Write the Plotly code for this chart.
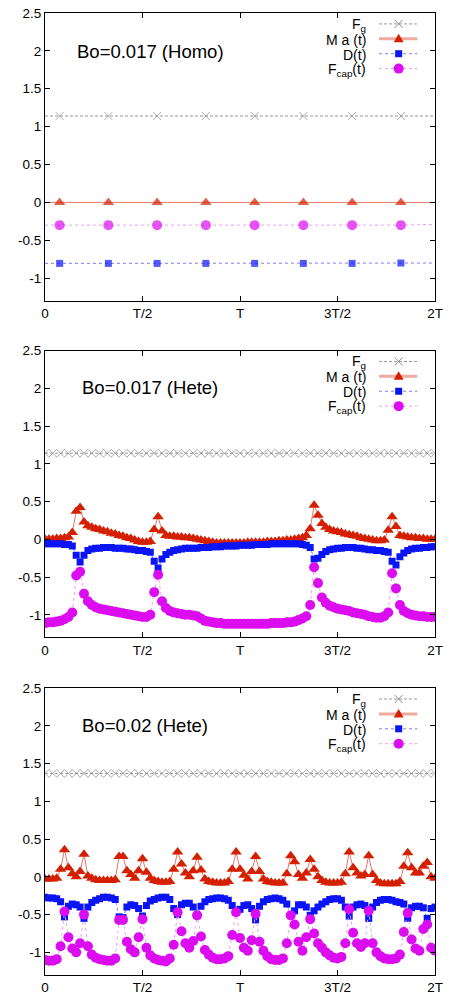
import plotly.graph_objects as go

# ---------------- data ----------------
# Panel 1: Bo=0.017 (Homo) -- time in units of T
T_HOMO = [0.0, 0.075, 0.325, 0.575, 0.825, 1.075, 1.325, 1.575, 1.825, 2.0]
HOMO_MARK = [0, 1, 1, 1, 1, 1, 1, 1, 1, 0]
FG_HOMO = [1.14, 1.14, 1.14, 1.14, 1.14, 1.14, 1.14, 1.14, 1.14, 1.14]
MA_HOMO = [0.0, 0.0, 0.0, 0.0, 0.0, 0.0, 0.0, 0.0, 0.0, 0.0]
D_HOMO = [-0.805, -0.805, -0.805, -0.805, -0.805, -0.805, -0.805, -0.805, -0.80, -0.80]
FCAP_HOMO = [-0.30, -0.30, -0.30, -0.30, -0.30, -0.30, -0.30, -0.30, -0.30, -0.29]

# time samples for the heterogeneous runs (0 .. 2T, 101 samples)
T_HETE = [i / 50 for i in range(101)]

# Panel 2: Bo=0.017 (Hete)
FG_017 = [1.14, 1.14, 1.14, 1.14, 1.14, 1.14, 1.14, 1.14, 1.14, 1.14,
          1.14, 1.14, 1.14, 1.14, 1.14, 1.14, 1.14, 1.14, 1.14, 1.14,
          1.14, 1.14, 1.14, 1.14, 1.14, 1.14, 1.14, 1.14, 1.14, 1.14,
          1.14, 1.14, 1.14, 1.14, 1.14, 1.14, 1.14, 1.14, 1.14, 1.14,
          1.14, 1.14, 1.14, 1.14, 1.14, 1.14, 1.14, 1.14, 1.14, 1.14,
          1.14, 1.14, 1.14, 1.14, 1.14, 1.14, 1.14, 1.14, 1.14, 1.14,
          1.14, 1.14, 1.14, 1.14, 1.14, 1.14, 1.14, 1.14, 1.14, 1.14,
          1.14, 1.14, 1.14, 1.14, 1.14, 1.14, 1.14, 1.14, 1.14, 1.14,
          1.14, 1.14, 1.14, 1.14, 1.14, 1.14, 1.14, 1.14, 1.14, 1.14,
          1.14, 1.14, 1.14, 1.14, 1.14, 1.14, 1.14, 1.14, 1.14, 1.14,
          1.14]
MA_017 = [0.00, 0.00, 0.00, 0.01, 0.01, 0.02, 0.03,
          0.09, 0.37, 0.42, 0.23,
          0.18, 0.16, 0.14, 0.13, 0.11, 0.10, 0.08, 0.07, 0.05, 0.04, 0.02, 0.01,
          -0.01, -0.03, -0.04, -0.04, -0.03,
          0.13, 0.30, 0.11,
          0.05, 0.04, 0.04, 0.03, 0.03, 0.02, 0.02, 0.01, 0.00, -0.01, -0.02, -0.03, -0.04,
          -0.05, -0.05, -0.05, -0.05, -0.05, -0.05, -0.05, -0.05, -0.04, -0.04, -0.04, -0.04,
          -0.04, -0.03, -0.03, -0.03, -0.02, -0.02, -0.01, -0.01, 0.00, 0.01, 0.02,
          0.05, 0.14, 0.45, 0.32, 0.21,
          0.16, 0.13, 0.11, 0.10, 0.09, 0.07, 0.06, 0.05, 0.04, 0.02, 0.01, 0.00, -0.01, -0.02, -0.02, -0.01,
          0.12, 0.30, 0.17, 0.05,
          0.04, 0.03, 0.02, 0.02, 0.01, 0.01, 0.00, 0.00, 0.00]
D_017 = [-0.06, -0.06, -0.06, -0.06, -0.06, -0.07, -0.07,
         -0.09, -0.21, -0.30, -0.21,
         -0.15, -0.13, -0.12, -0.12, -0.11, -0.11, -0.11, -0.12, -0.12, -0.12, -0.13, -0.13,
         -0.14, -0.15, -0.15, -0.16, -0.17,
         -0.29, -0.38, -0.26,
         -0.20, -0.17, -0.15, -0.14, -0.13, -0.12, -0.12, -0.12, -0.12, -0.11, -0.11, -0.11, -0.10,
         -0.10, -0.10, -0.09, -0.09, -0.09, -0.09, -0.08, -0.08, -0.08, -0.08, -0.07, -0.07,
         -0.07, -0.07, -0.06, -0.06, -0.06, -0.06, -0.06, -0.06, -0.06, -0.06, -0.07,
         -0.08, -0.11, -0.26, -0.25, -0.20,
         -0.16, -0.14, -0.13, -0.12, -0.12, -0.11, -0.11, -0.11, -0.12, -0.12, -0.13, -0.14, -0.14, -0.15, -0.15, -0.16,
         -0.17, -0.29, -0.34, -0.23,
         -0.18, -0.15, -0.13, -0.12, -0.12, -0.11, -0.11, -0.10, -0.10]
FCAP_017 = [-1.11, -1.10, -1.10, -1.09, -1.08, -1.06, -1.03,
            -0.97, -0.48, -0.43, -0.72,
            -0.82, -0.87, -0.90, -0.92, -0.93, -0.94, -0.95, -0.96, -0.97, -0.98, -0.99, -1.00,
            -1.01, -1.02, -1.03, -1.03, -1.00,
            -0.70, -0.47, -0.82,
            -0.91, -0.95, -0.97, -0.98, -0.99, -1.00, -1.00, -1.01, -1.02, -1.05, -1.08, -1.09, -1.10,
            -1.11, -1.11, -1.12, -1.12, -1.12, -1.12, -1.12, -1.12, -1.12, -1.12, -1.12, -1.12,
            -1.12, -1.12, -1.11, -1.11, -1.11, -1.11, -1.10, -1.10, -1.09, -1.07, -1.05,
            -1.02, -0.87, -0.37, -0.58, -0.77,
            -0.84, -0.88, -0.90, -0.92, -0.93, -0.94, -0.95, -0.97, -0.98, -0.99, -1.00, -1.02, -1.03, -1.04, -1.04, -1.02,
            -0.97, -0.45, -0.65, -0.87,
            -0.95, -0.98, -1.00, -1.01, -1.02, -1.02, -1.03, -1.03, -1.03]

# Panel 3: Bo=0.02 (Hete)
FG_020 = [1.37, 1.37, 1.37, 1.37, 1.37, 1.37, 1.37, 1.37, 1.37, 1.37,
          1.37, 1.37, 1.37, 1.37, 1.37, 1.37, 1.37, 1.37, 1.37, 1.37,
          1.37, 1.37, 1.37, 1.37, 1.37, 1.37, 1.37, 1.37, 1.37, 1.37,
          1.37, 1.37, 1.37, 1.37, 1.37, 1.37, 1.37, 1.37, 1.37, 1.37,
          1.37, 1.37, 1.37, 1.37, 1.37, 1.37, 1.37, 1.37, 1.37, 1.37,
          1.37, 1.37, 1.37, 1.37, 1.37, 1.37, 1.37, 1.37, 1.37, 1.37,
          1.37, 1.37, 1.37, 1.37, 1.37, 1.37, 1.37, 1.37, 1.37, 1.37,
          1.37, 1.37, 1.37, 1.37, 1.37, 1.37, 1.37, 1.37, 1.37, 1.37,
          1.37, 1.37, 1.37, 1.37, 1.37, 1.37, 1.37, 1.37, 1.37, 1.37,
          1.37, 1.37, 1.37, 1.37, 1.37, 1.37, 1.37, 1.37, 1.37, 1.37,
          1.37]
MA_020 = [-0.03, -0.03, -0.03, -0.02, 0.10, 0.36, 0.12, 0.04, 0.00, 0.07,
          0.30, 0.01, -0.02, -0.04, -0.05, -0.05, -0.05, -0.05, -0.04, 0.27,
          0.27, 0.08, 0.03, -0.02, 0.08, 0.24, 0.06, -0.02, -0.05, -0.06,
          -0.07, -0.07, -0.06, 0.10, 0.33, 0.17, 0.05, 0.00, 0.08, 0.26,
          0.09, -0.03, -0.06, -0.07, -0.08, -0.08, -0.08, -0.06, 0.10, 0.33,
          0.10, 0.02, -0.03, 0.07, 0.27, 0.07, -0.03, -0.06, -0.07, -0.08,
          -0.08, -0.08, 0.04, 0.28, 0.20, 0.03, -0.02, 0.05, 0.23, 0.10,
          0.00, -0.05, -0.07, -0.08, -0.08, -0.08, -0.07, 0.04, 0.33, 0.12,
          0.05, 0.01, 0.03, 0.28, 0.03, -0.05, -0.08, -0.09, -0.09, -0.09,
          -0.09, -0.06, 0.14, 0.32, 0.12, 0.05, 0.05, 0.14, 0.19, 0.00,
          -0.02]
D_020 = [-0.27, -0.28, -0.28, -0.29, -0.33, -0.53, -0.39, -0.36, -0.37, -0.40,
         -0.55, -0.40, -0.34, -0.31, -0.29, -0.27, -0.27, -0.28, -0.30, -0.53,
         -0.54, -0.40, -0.37, -0.38, -0.42, -0.52, -0.38, -0.32, -0.30, -0.28,
         -0.27, -0.27, -0.30, -0.42, -0.50, -0.37, -0.35, -0.35, -0.40, -0.51,
         -0.39, -0.33, -0.30, -0.29, -0.28, -0.28, -0.29, -0.31, -0.38, -0.47,
         -0.43, -0.38, -0.37, -0.42, -0.57, -0.39, -0.33, -0.30, -0.29, -0.28,
         -0.29, -0.31, -0.36, -0.51, -0.45, -0.37, -0.37, -0.40, -0.51, -0.45,
         -0.40, -0.36, -0.33, -0.30, -0.29, -0.29, -0.31, -0.40, -0.52, -0.40,
         -0.37, -0.36, -0.38, -0.55, -0.40, -0.34, -0.31, -0.30, -0.30, -0.31,
         -0.33, -0.34, -0.36, -0.55, -0.41, -0.39, -0.39, -0.41, -0.55, -0.42,
         -0.40]
FCAP_020 = [-1.10, -1.11, -1.11, -1.09, -0.92, -0.46, -0.80, -0.95, -1.00, -0.88,
            -0.50, -0.92, -1.03, -1.07, -1.09, -1.10, -1.11, -1.11, -1.08, -0.57,
            -0.57, -0.86, -0.96, -1.00, -0.80, -0.56, -0.94, -1.04, -1.08, -1.10,
            -1.11, -1.12, -1.08, -0.90, -0.47, -0.72, -0.88, -0.94, -0.85, -0.51,
            -0.79, -0.97, -1.03, -1.07, -1.09, -1.09, -1.08, -1.05, -0.77, -0.47,
            -0.81, -0.94, -0.98, -0.84, -0.49, -0.86, -0.98, -1.05, -1.09, -1.10,
            -1.10, -1.08, -0.88, -0.51, -0.63, -0.86, -0.98, -0.80, -0.56, -0.75,
            -0.88, -0.94, -1.00, -1.04, -1.07, -1.08, -1.06, -0.88, -0.43, -0.74,
            -0.88, -0.93, -0.88, -0.45, -0.88, -1.00, -1.05, -1.08, -1.09, -1.09,
            -1.08, -1.03, -0.73, -0.48, -0.83, -0.95, -0.98, -0.69, -0.63, -0.94,
            -0.98]

PANEL_TITLES = ["Bo=0.017 (Homo)", "Bo=0.017 (Hete)", "Bo=0.02 (Hete)"]
SERIES_NAMES = ["F<sub>g</sub>", "M a (t)", "D(t)", "F<sub>cap</sub>(t)"]
X_TICKVALS = [0, 0.5, 1, 1.5, 2]
X_TICKTEXT = ["0", "T/2", "T", "3T/2", "2T"]
Y_TICKVALS = [-1, -0.5, 0, 0.5, 1, 1.5, 2, 2.5]
Y_TICKTEXT = ["-1", "-0.5", "0", "0.5", "1", "1.5", "2", "2.5"]

# ---------------- style ----------------
FONT = "Liberation Sans, Arial, Helvetica, sans-serif"
STYLES = [
    dict(symbol="x-thin", msize=8, mcolor="#8a8a8a", lcolor="#999999", dash="3px,2px", lwidth=1, leg_lcolor="#999999", leg_lwidth=1),
    dict(symbol="triangle-up", msize=10, mcolor="#d42000", lcolor="#e07a68", dash="solid", lwidth=1, leg_lcolor="#f0aaa0", leg_lwidth=3),
    dict(symbol="square", msize=7, mcolor="#0a14f5", lcolor="#7a80ff", dash="dot", lwidth=1, leg_lcolor="#7a80ff", leg_lwidth=1),
    dict(symbol="circle", msize=10, mcolor="#dc0cf0", lcolor="#ee9cf4", dash="dot", lwidth=1, leg_lcolor="#ee9cf4", leg_lwidth=1),
]

W, H = 449, 1002
ML, MR, MT, MB = 45, 7, 6, 27
PH = H - MT - MB
PW = W - ML - MR
# panel pixel extents (top, bottom) in page pixels
PANEL_PX = [(6, 296), (346, 635), (686, 975)]


def dom(top, bottom):
    return [(H - MB - bottom) / PH, (H - MB - top) / PH]


def key_symbol(st, xref, yref, xa_frac, ya_frac):
    """A legend-key symbol drawn as a pixel-sized shape."""
    base = dict(xref=xref, yref=yref, xsizemode="pixel", ysizemode="pixel",
                xanchor=xa_frac, yanchor=ya_frac, layer="above")
    c = st["mcolor"]
    if st["symbol"] == "x-thin":
        return dict(base, type="path", path="M -4,-4 L 4,4 M -4,4 L 4,-4",
                    line=dict(color=c, width=1))
    if st["symbol"] == "triangle-up":
        return dict(base, type="path", path="M -5,-3.5 L 5,-3.5 L 0,5 Z",
                    fillcolor=c, line=dict(width=0))
    if st["symbol"] == "square":
        return dict(base, type="rect", x0=-3.5, x1=3.5, y0=-3.5, y1=3.5,
                    fillcolor=c, line=dict(width=0))
    return dict(base, type="circle", x0=-5, x1=5, y0=-5, y1=5,
                fillcolor=c, line=dict(width=0))


panels = [
    (T_HOMO, [FG_HOMO, MA_HOMO, D_HOMO, FCAP_HOMO], HOMO_MARK),
    (T_HETE, [FG_017, MA_017, D_017, FCAP_017], None),
    (T_HETE, [FG_020, MA_020, D_020, FCAP_020], None),
]

fig = go.Figure()
layout = dict(
    width=W, height=H,
    margin=dict(l=ML, r=MR, t=MT, b=MB, pad=0),
    paper_bgcolor="white", plot_bgcolor="white",
    showlegend=False,
    font=dict(family=FONT, size=14, color="black"),
)

annotations = []
shapes = []
for k, (tt, series, mask) in enumerate(panels):
    xa = "x" if k == 0 else f"x{k+1}"
    ya = "y" if k == 0 else f"y{k+1}"
    xd, yd = f"{xa} domain", f"{ya} domain"
    top, bottom = PANEL_PX[k]
    ph = bottom - top
    for s, vals in enumerate(series):
        st = STYLES[s]
        if mask is not None:
            sizes = [st["msize"] if m else 0 for m in mask]
        elif s == 0:
            # the gravity curve carries a symbol on every other sample
            sizes = [st["msize"] if i % 2 == 0 else 0 for i in range(len(vals))]
        else:
            sizes = st["msize"]
        marker = dict(symbol=st["symbol"], size=sizes, color=st["mcolor"])
        if st["symbol"] == "x-thin":
            marker["line"] = dict(color=st["mcolor"], width=1)
        else:
            marker["line"] = dict(width=0)
        fig.add_trace(go.Scatter(
            x=tt, y=vals, xaxis=xa, yaxis=ya, mode="lines+markers",
            line=dict(color=st["lcolor"], width=st["lwidth"], dash=st["dash"]),
            marker=marker, hoverinfo="skip"))
        # legend key (sample line + symbol) and its label
        row = 11 + 15 * s
        yf = 1 - row / ph
        shapes.append(dict(type="line", xref=xd, yref=yd, x0=340 / PW, x1=379 / PW,
                           y0=yf, y1=yf, layer="above",
                           line=dict(color=st["leg_lcolor"], width=st["leg_lwidth"],
                                     dash=st["dash"])))
        shapes.append(key_symbol(st, xd, yd, 360 / PW, yf))
        annotations.append(dict(
            x=329 / PW, y=1 - (row + 1) / ph, xref=xd, yref=yd,
            text=SERIES_NAMES[s],
            showarrow=False, xanchor="right", yanchor="middle",
            font=dict(family=FONT, size=14, color="black")))

    d = dom(top, bottom)
    axis_common = dict(showline=True, linecolor="black", linewidth=1, mirror="allticks",
                       ticks="inside", ticklen=5, tickcolor="black", tickwidth=1,
                       showgrid=False, zeroline=False,
                       tickfont=dict(family=FONT, size=13.5, color="black"))
    layout["xaxis" if k == 0 else f"xaxis{k+1}"] = dict(
        axis_common, domain=[0, 1], range=[0, 2], anchor=ya,
        tickvals=X_TICKVALS, ticktext=X_TICKTEXT, ticklabeloverflow="allow")
    layout["yaxis" if k == 0 else f"yaxis{k+1}"] = dict(
        axis_common, domain=d, range=[-1.3, 2.5], anchor=xa,
        tickvals=Y_TICKVALS, ticktext=Y_TICKTEXT)
    ty = 0.866 if k == 0 else 0.871
    tx = 0.078 if k == 0 else 0.091
    annotations.append(dict(
        x=tx, y=ty, xref=xd, yref=yd, text=PANEL_TITLES[k],
        showarrow=False, xanchor="left", yanchor="middle",
        font=dict(family=FONT, size=18.5, color="black")))

layout["annotations"] = annotations
layout["shapes"] = shapes
fig.update_layout(**layout)
fig.write_html("out.html", config={"displayModeBar": False},
               post_script="document.body.style.margin='0px';")
